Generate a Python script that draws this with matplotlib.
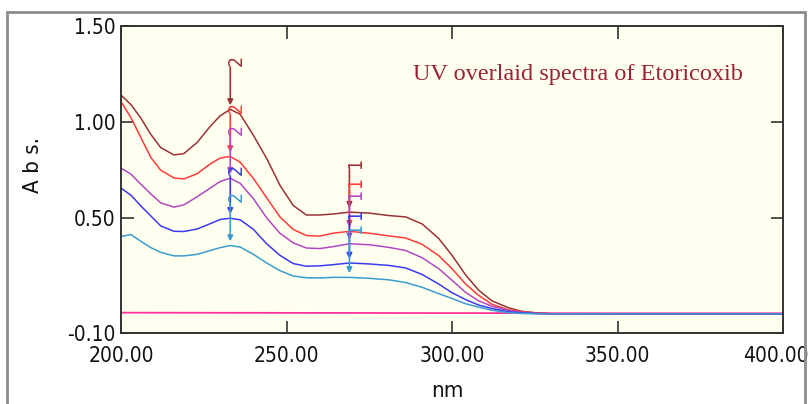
import numpy as np
from matplotlib import pyplot as plt
from matplotlib.patches import Rectangle
from matplotlib.transforms import ScaledTranslation

# wavelengths (nm) shared by all spectra
wavelengths = [200, 203, 206, 209, 212, 216, 219, 223, 227, 230, 233, 236, 240, 244,
               248, 252, 256, 260, 264, 269, 275, 281, 286, 291, 296, 300, 304, 308,
               312, 317, 321, 326, 330, 340, 360, 380, 400]

abs_brown = [1.14, 1.09, 1.02, 0.935, 0.866, 0.828, 0.835, 0.893, 0.978, 1.033, 1.065, 1.04,
             0.93, 0.81, 0.67, 0.565, 0.515, 0.515, 0.52, 0.53, 0.525, 0.512, 0.505, 0.468,
             0.392, 0.305, 0.205, 0.124, 0.068, 0.032, 0.013, 0.004, 0.0, 0.0, 0.0, 0.0, 0.0]
abs_red = [1.106, 1.022, 0.918, 0.815, 0.748, 0.708, 0.703, 0.73, 0.782, 0.812, 0.82, 0.79,
           0.705, 0.605, 0.505, 0.44, 0.408, 0.405, 0.42, 0.43, 0.42, 0.406, 0.395, 0.362,
           0.303, 0.235, 0.157, 0.097, 0.05, 0.021, 0.012, 0.004, 0.0, 0.0, 0.0, 0.0, 0.0]
abs_purple = [0.759, 0.728, 0.675, 0.625, 0.578, 0.556, 0.568, 0.61, 0.656, 0.69, 0.707, 0.68,
              0.6, 0.5, 0.42, 0.37, 0.343, 0.34, 0.35, 0.365, 0.36, 0.346, 0.33, 0.292,
              0.235, 0.175, 0.113, 0.068, 0.04, 0.018, 0.008, 0.002, 0.0, 0.0, 0.0, 0.0, 0.0]
abs_blue = [0.655, 0.618, 0.562, 0.51, 0.458, 0.43, 0.429, 0.442, 0.47, 0.492, 0.498, 0.49,
            0.44, 0.365, 0.305, 0.262, 0.248, 0.25, 0.256, 0.265, 0.26, 0.252, 0.239, 0.205,
            0.155, 0.11, 0.075, 0.046, 0.028, 0.011, 0.005, 0.001, 0.0, 0.0, 0.0, 0.0, 0.0]
abs_cyan = [0.403, 0.413, 0.378, 0.345, 0.32, 0.302, 0.302, 0.31, 0.33, 0.345, 0.356, 0.348,
            0.31, 0.265, 0.225, 0.197, 0.188, 0.187, 0.19, 0.19, 0.185, 0.177, 0.163, 0.138,
            0.105, 0.08, 0.053, 0.035, 0.019, 0.006, 0.002, 0.0, 0.0, 0.0, 0.0, 0.0, 0.0]

blank_nm = [200, 250, 300, 350, 400]
blank_abs = [0.006, 0.005, 0.004, 0.003, 0.003]

spectra = [abs_brown, abs_red, abs_purple, abs_blue, abs_cyan]
colors = ['#993333', '#ff3b3b', '#b048c0', '#3a3af0', '#3a9cd0']

# peak picks shown on the chart
peak_nm = [233, 269]
peak_labels = ['2', '1']

x_ticks = [200, 250, 300, 350, 400]
y_ticks = [-0.10, 0.50, 1.00, 1.50]

TICK_FONT = dict(family=['Liberation Sans Narrow', 'DejaVu Sans'], stretch='condensed')


def build_graph():
    '''
    Draw the overlaid spectra and save them
    '''
    fig = plt.figure(figsize=(8.09, 4.04), dpi=100)
    ax = fig.add_axes([0.1496, 0.1757, 0.8183, 0.76])
    ax.set_facecolor('#fffff0')

    # outer grey frame
    fig.patches.append(Rectangle((7 / 809, -0.2), 798 / 809, 1.2 - 12 / 404,
                                 transform=fig.transFigure, fill=False,
                                 edgecolor='#8c8c8c', lw=2))

    ax.plot(blank_nm, blank_abs, color='#ff3399', lw=1.3)
    for values, color in zip(spectra, colors):
        ax.plot(wavelengths, values, color=color, lw=1.1)

    for values, color in zip(spectra, colors):
        for nm, label in zip(peak_nm, peak_labels):
            y = np.interp(nm, wavelengths, values)
            ax.annotate('', xy=(nm, y), xytext=(nm, y + 0.22),
                        arrowprops=dict(arrowstyle='-|>', color=color, lw=1.2,
                                        mutation_scale=8, shrinkA=0, shrinkB=3))
            ax.text(nm - 1.0, y + 0.255, label, color=color, rotation=90,
                    ha='left', va='center', fontsize=14, **TICK_FONT)

    ax.text(338, 1.245, 'UV overlaid spectra of Etoricoxib', color='#9b2335',
            ha='center', va='center', fontsize=17.5, family='Liberation Serif')

    ax.set_xlim(200, 400)
    ax.set_ylim(-0.10, 1.50)
    ax.set_xticks(x_ticks)
    ax.set_yticks(y_ticks)
    ax.set_xticklabels(['%.2f' % v for v in x_ticks])
    ax.set_yticklabels(['%.2f' % v for v in y_ticks])
    ax.tick_params(direction='in', length=9, width=1.2, top=True, right=True,
                   labelsize=15, colors='#333333', labelcolor='#111111')
    ax.tick_params(axis='x', pad=9)
    ax.tick_params(axis='y', pad=4)
    for lab in ax.get_xticklabels() + ax.get_yticklabels():
        lab.set_family(TICK_FONT['family'])
        lab.set_stretch('condensed')
    # keep the last x label inside the picture
    last = ax.get_xticklabels()[-1]
    last.set_transform(last.get_transform() + ScaledTranslation(-7 / 100, 0, fig.dpi_scale_trans))
    for spine in ax.spines.values():
        spine.set_color('#333333')
        spine.set_linewidth(1.4)

    fig.text(33 / 809, 1 - 165 / 404, 'A b s.', rotation=90, ha='center',
             va='center', fontsize=16, color='#111111', **TICK_FONT)
    fig.text(447 / 809, 1 - 391 / 404, 'nm', ha='center', va='center',
             fontsize=16, color='#111111', **TICK_FONT)

    fig.savefig('out.png', dpi=100)


if __name__ == '__main__':
    build_graph()
